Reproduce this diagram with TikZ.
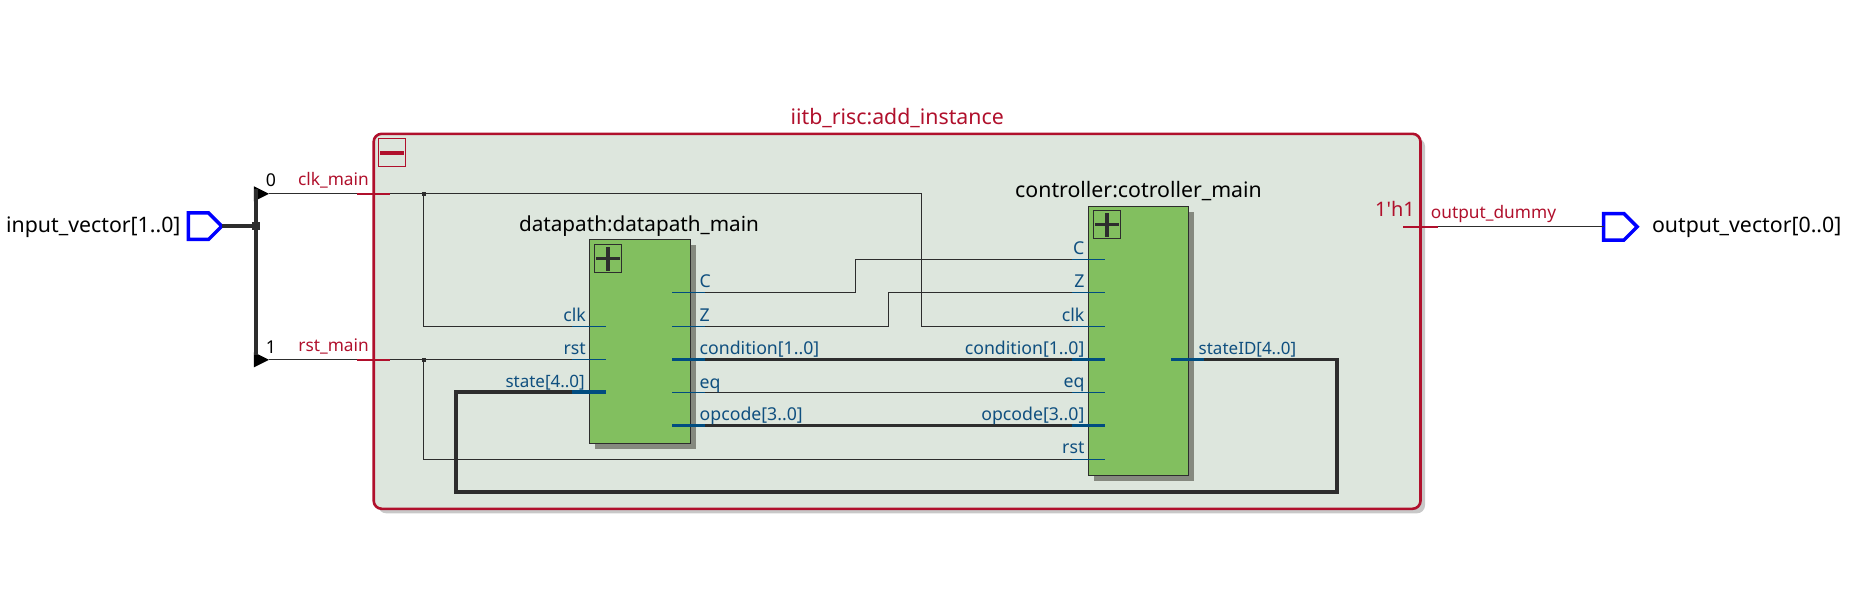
\documentclass[tikz,border=0pt]{standalone}
\usepackage{fontspec}
\setmainfont{Noto Sans}
\usetikzlibrary{shapes.geometric,shapes.symbols,shadows}
\definecolor{framered}{HTML}{B0102C}
\definecolor{pinblue}{HTML}{004C80}
\definecolor{labelblue}{HTML}{0F4F7F}
\definecolor{wiredark}{HTML}{2D2D2D}
\definecolor{frameback}{HTML}{DDE6DD}
\definecolor{frameshade}{HTML}{C8C8C8}
\definecolor{boxgreen}{HTML}{82BF5F}
\definecolor{boxshade}{HTML}{85897F}
\tikzset{
  wire/.style={draw=wiredark,line width=1pt},
  bus/.style={draw=wiredark,line width=3.7pt},
  pinthin/.style={draw=pinblue,line width=1pt},
  pinbus/.style={draw=pinblue,line width=3.7pt},
  portred/.style={draw=framered,line width=2.6pt},
  block/.style={shape=rectangle,draw=wiredark,line width=1pt,fill=boxgreen,inner sep=0pt,outer sep=0pt,
    general shadow={shadow xshift=5.5pt,shadow yshift=-5.5pt,fill=boxshade}},
  togglebox/.style={shape=rectangle,line width=1pt,inner sep=0pt,outer sep=0pt,minimum width=27.5pt,minimum height=27.4pt},
  pinport/.style={shape=signal,signal to=east,signal from=nowhere,signal pointer angle=90,draw=blue,line width=3.5pt,inner sep=0pt,outer sep=0pt,minimum width=33.5pt,minimum height=26.5pt},
  splitter/.style={shape=isosceles triangle,isosceles triangle stretches,fill=black,inner sep=0pt,outer sep=0pt,minimum width=15pt,minimum height=15pt},
  junction/.style={shape=rectangle,fill=wiredark,inner sep=0pt,outer sep=0pt,minimum size=4pt},
  pinlabel/.style={text=labelblue,font=\fontsize{17.7}{20}\selectfont,inner sep=0pt},
  netlabel/.style={text=framered,font=\fontsize{17.3}{20}\selectfont,inner sep=0pt},
  blocktitle/.style={text=black,font=\fontsize{21.3}{24}\selectfont,inner sep=0pt}
}
\begin{document}
\begin{tikzpicture}[x=1pt,y=-1pt]
    \useasboundingbox (0,0.5) rectangle (1855,598.5);

    \node[shape=rectangle,draw=framered,line width=2.6pt,fill=frameback,rounded corners=8pt,inner sep=0pt,outer sep=0pt,minimum width=1046.8pt,minimum height=375pt,
      general shadow={shadow xshift=4.5pt,shadow yshift=-4.5pt,fill=frameshade}] (frame) at (897.1,321.8) {};
    \node[togglebox,draw=framered] (minusbox) at (392,153) {};
    \draw[draw=framered,line width=4pt] ([xshift=-12.2pt]minusbox.center) -- ([xshift=12.2pt]minusbox.center);

    \node[block,minimum width=100.4pt,minimum height=203.4pt] (datapath) at (639.8,342) {};
    \node[block,minimum width=100pt,minimum height=269.6pt] (controller) at (1138.6,341.5) {};
    \node[togglebox,draw=wiredark] (dplus) at (608.1,259) {};
    \node[togglebox,draw=wiredark] (cplus) at (1107.2,225) {};
    \draw[draw=wiredark,line width=3.8pt] ([xshift=-12pt]dplus.center) -- ([xshift=12pt]dplus.center);
    \draw[draw=wiredark,line width=3.8pt] ([yshift=-12pt]dplus.center) -- ([yshift=12pt]dplus.center);
    \draw[draw=wiredark,line width=3.8pt] ([xshift=-12pt]cplus.center) -- ([xshift=12pt]cplus.center);
    \draw[draw=wiredark,line width=3.8pt] ([yshift=-12pt]cplus.center) -- ([yshift=12pt]cplus.center);

    % top level pins and splitter
    \node[pinport] (invec) at (198.4,226.7) {};
    \node[pinport] (outvec) at (1613.8,227.3) {};
    \node[junction,minimum size=8pt] (busjoin) at (255.8,226.7) {};
    \node[splitter,anchor=apex] (split0) at (268.9,194.3) {};
    \node[splitter,anchor=apex] (split1) at (268.9,360.3) {};
    \node[junction] (clkjoin) at (423.5,194.3) {};
    \node[junction] (rstjoin) at (423.5,360.3) {};

    \coordinate (clktop) at (921.7,194.3);
    \coordinate (clkbot) at (921.7,327.3);
    \coordinate (clkleft) at (423.5,327.3);
    \coordinate (rstleft) at (423.5,460.3);
    \coordinate (ckbend1) at (855.7,293.3);
    \coordinate (ckbend2) at (855.7,260.3);
    \coordinate (zbend1) at (888.9,327.3);
    \coordinate (zbend2) at (888.9,293.3);
    \coordinate (stbend1) at (456,392.7);
    \coordinate (stbend2) at (456,492.7);
    \coordinate (stbend3) at (1337,492.7);
    \coordinate (stbend4) at (1337,360);
    \coordinate (busT) at (255.8,189);
    \coordinate (busB) at (255.8,355);

    % pin stubs, outer and inner end
    \coordinate (dclkA) at (572,327.3);   \coordinate (dclkB) at (605.8,327.3);
    \coordinate (drstA) at (572,360.3);   \coordinate (drstB) at (605.8,360.3);
    \coordinate (dstA) at (572,392.7);    \coordinate (dstB) at (605.8,392.7);
    \coordinate (dCA) at (705,293.3);     \coordinate (dCB) at (672.2,293.3);
    \coordinate (dZA) at (705,327.3);     \coordinate (dZB) at (672.2,327.3);
    \coordinate (dcondA) at (705,360);    \coordinate (dcondB) at (672.2,360);
    \coordinate (deqA) at (705,393.3);    \coordinate (deqB) at (672.2,393.3);
    \coordinate (dopA) at (705,426);      \coordinate (dopB) at (672.2,426);
    \coordinate (cCA) at (1071.6,260.3);  \coordinate (cCB) at (1104.8,260.3);
    \coordinate (cZA) at (1071.6,293.3);  \coordinate (cZB) at (1104.8,293.3);
    \coordinate (cclkA) at (1071.6,327.3); \coordinate (cclkB) at (1104.8,327.3);
    \coordinate (ccondA) at (1071.6,360); \coordinate (ccondB) at (1104.8,360);
    \coordinate (ceqA) at (1071.6,393.3); \coordinate (ceqB) at (1104.8,393.3);
    \coordinate (copA) at (1071.6,426);   \coordinate (copB) at (1104.8,426);
    \coordinate (crstA) at (1071.6,460.3); \coordinate (crstB) at (1104.8,460.3);
    \coordinate (cstA) at (1204,360);     \coordinate (cstB) at (1170.8,360);
    \coordinate (clkportA) at (356.7,194.3); \coordinate (clkportB) at (389.5,194.3);
    \coordinate (rstportA) at (356.7,360.3); \coordinate (rstportB) at (389.5,360.3);
    \coordinate (outportA) at (1403.4,227.3); \coordinate (outportB) at (1438,227.3);

    \draw[bus] (invec.east) -- (busjoin);
    \draw[bus] (busT) -- (busB);
    \draw[wire] (split0.apex) -- (clkjoin) -- (clktop) -- (clkbot) -- (cclkA);
    \draw[wire] (clkjoin) -- (clkleft) -- (dclkA);
    \draw[wire] (split1.apex) -- (rstjoin) -- (drstA);
    \draw[wire] (rstjoin) -- (rstleft) -- (crstA);
    \draw[wire] (dCA) -- (ckbend1) -- (ckbend2) -- (cCA);
    \draw[wire] (dZA) -- (zbend1) -- (zbend2) -- (cZA);
    \draw[wire] (deqA) -- (ceqA);
    \draw[bus] (dcondA) -- (ccondA);
    \draw[bus] (dopA) -- (copA);
    \draw[bus,line join=miter] (dstA) -- (stbend1) -- (stbend2) -- (stbend3) -- (stbend4) -- (cstA);
    \draw[wire] (outportB) -- (outvec.west);

    \draw[pinthin] (dclkA) -- (dclkB);
    \draw[pinthin] (drstA) -- (drstB);
    \draw[pinbus] (dstA) -- (dstB);
    \draw[pinthin] (dCA) -- (dCB);
    \draw[pinthin] (dZA) -- (dZB);
    \draw[pinbus] (dcondA) -- (dcondB);
    \draw[pinthin] (deqA) -- (deqB);
    \draw[pinbus] (dopA) -- (dopB);
    \draw[pinthin] (cCA) -- (cCB);
    \draw[pinthin] (cZA) -- (cZB);
    \draw[pinthin] (cclkA) -- (cclkB);
    \draw[pinbus] (ccondA) -- (ccondB);
    \draw[pinthin] (ceqA) -- (ceqB);
    \draw[pinbus] (copA) -- (copB);
    \draw[pinthin] (crstA) -- (crstB);
    \draw[pinbus] (cstA) -- (cstB);
    \draw[portred] (clkportA) -- (clkportB);
    \draw[portred] (rstportA) -- (rstportB);
    \draw[portred] (outportA) -- (outportB);

    % texts
    \node[blocktitle,anchor=base west] (invectext) at (6,233.3) {input\_vector[1..0]};
    \node[blocktitle,anchor=base west] (outvectext) at (1651.8,232.7) {output\_vector[0..0]};
    \node[blocktitle,font=\fontsize{20.7}{24}\selectfont,anchor=base] (dptitle) at (639,231.7) {datapath:datapath\_main};
    \node[blocktitle,anchor=base] (cttitle) at (1138.5,197.7) {controller:cotroller\_main};
    \node[blocktitle,text=framered,anchor=base] (frametitle) at (897.2,125) {iitb\_risc:add\_instance};
    \node[blocktitle,text=framered,font=\fontsize{20}{24}\selectfont,anchor=base east] (consttext) at (1415,217.3) {1\textquotesingle h1};
    \node[netlabel,anchor=base east] (clknet) at (369,186) {clk\_main};
    \node[netlabel,anchor=base east] (rstnet) at (369,352.3) {rst\_main};
    \node[netlabel,anchor=base west] (outnet) at (1430.7,219.3) {output\_dummy};
    \node[pinlabel,text=black,anchor=base] (bit0) at (271,187.3) {0};
    \node[pinlabel,text=black,anchor=base] (bit1) at (271,354) {1};

    \node[pinlabel,anchor=base east] (tdclk) at (586,322) {clk};
    \node[pinlabel,anchor=base east] (tdrst) at (586,355) {rst};
    \node[pinlabel,font=\fontsize{17}{20}\selectfont,anchor=base east] (tdst) at (585,388) {state[4..0]};
    \node[pinlabel,anchor=base west] (tdC) at (699.5,288.3) {C};
    \node[pinlabel,anchor=base west] (tdZ) at (699.5,322) {Z};
    \node[pinlabel,anchor=base west] (tdcond) at (699.5,355) {condition[1..0]};
    \node[pinlabel,anchor=base west] (tdeq) at (699.5,388.5) {eq};
    \node[pinlabel,anchor=base west] (tdop) at (699.5,421) {opcode[3..0]};
    \node[pinlabel,anchor=base east] (tcC) at (1084.6,254.5) {C};
    \node[pinlabel,anchor=base east] (tcZ) at (1084.6,288) {Z};
    \node[pinlabel,anchor=base east] (tcclk) at (1084.6,321.5) {clk};
    \node[pinlabel,anchor=base east] (tccond) at (1084.6,355) {condition[1..0]};
    \node[pinlabel,anchor=base east] (tceq) at (1084.6,388) {eq};
    \node[pinlabel,anchor=base east] (tcop) at (1084.6,420.5) {opcode[3..0]};
    \node[pinlabel,anchor=base east] (tcrst) at (1084.6,454) {rst};
    \node[pinlabel,font=\fontsize{17}{20}\selectfont,anchor=base west] (tcst) at (1198.5,355) {stateID[4..0]};
\end{tikzpicture}
\end{document}
